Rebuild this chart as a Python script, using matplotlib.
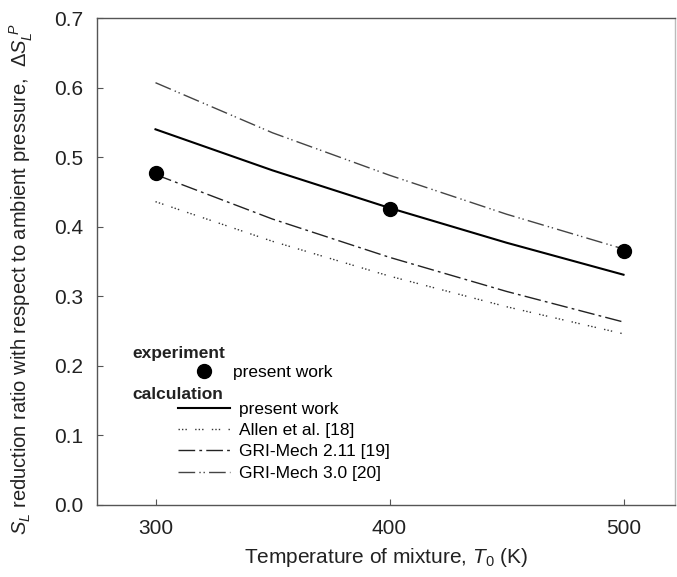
import matplotlib
matplotlib.use("Agg")
import matplotlib.pyplot as plt
from matplotlib.lines import Line2D

plt.rcParams['font.family'] = ['Liberation Sans', 'DejaVu Sans']
plt.rcParams['mathtext.fontset'] = 'custom'
plt.rcParams['mathtext.rm'] = 'Liberation Sans'
plt.rcParams['mathtext.it'] = 'Liberation Sans:italic'

# data
exp_T = [300, 400, 500]
exp_dS = [0.477, 0.425, 0.365]

calc_T = [300, 350, 400, 450, 500]
present_work = [0.540, 0.481, 0.427, 0.377, 0.331]
allen = [0.436, 0.379, 0.329, 0.285, 0.246]
gri211 = [0.475, 0.411, 0.356, 0.307, 0.263]
gri30 = [0.607, 0.535, 0.474, 0.418, 0.368]

fig = plt.figure(figsize=(6.77, 5.77), dpi=100)
ax = fig.add_axes([97/677, 72/577, 578/677, 487/577])

ls_allen = (0, (1, 1.5, 1, 1.5, 1, 6))
ls_211 = (0, (12, 3, 2, 3))
ls_30 = (0, (12, 3, 1, 2, 1, 3))

ax.plot(calc_T, present_work, color='black', lw=1.5)
ax.plot(calc_T, allen, color='#333333', lw=1.0, linestyle=ls_allen)
ax.plot(calc_T, gri211, color='#222222', lw=1.0, linestyle=ls_211)
ax.plot(calc_T, gri30, color='#444444', lw=1.0, linestyle=ls_30)
ax.plot(exp_T, exp_dS, 'o', color='black', markersize=10, zorder=5)

ax.set_xlim(275, 522)
ax.set_ylim(0, 0.7)
ax.set_xticks([300, 400, 500])
ax.set_yticks([0.0, 0.1, 0.2, 0.3, 0.4, 0.5, 0.6, 0.7])
ax.yaxis.set_major_formatter(plt.FuncFormatter(lambda v, p: f'{v:.1f}'))
ax.tick_params(axis='both', which='major', direction='in', length=4,
               labelsize=15, colors='#555555', labelcolor='#222222')
ax.tick_params(axis='x', which='major', pad=10)
ax.tick_params(axis='y', which='major', pad=10)
for sp in ax.spines.values():
    sp.set_color('#555555')
    sp.set_linewidth(1.0)
ax.spines['right'].set_color('#bbbbbb')

ax.set_xlabel('Temperature of mixture, $T_0$ (K)', fontsize=15, color='#222222', labelpad=6)
ax.set_ylabel(r'$S_L$ reduction ratio with respect to ambient pressure,  $\Delta S_L^{\ P}$',
              fontsize=14.5, color='#222222')
ax.yaxis.set_label_coords(-0.108, 0.464)

# legend
ax.text(0.061, 0.312, 'experiment', transform=ax.transAxes, fontsize=12.5,
        fontweight='bold', va='center', color='#222222')
ax.text(0.061, 0.226, 'calculation', transform=ax.transAxes, fontsize=12.5,
        fontweight='bold', va='center', color='#222222')

h_exp = [Line2D([], [], marker='o', color='black', linestyle='none', markersize=10)]
leg1 = ax.legend(h_exp, ['present work'], loc='center left',
                 bbox_to_anchor=(0.14, 0.272), frameon=False, fontsize=12.5,
                 handlelength=3.0, handletextpad=0.2, borderpad=0, borderaxespad=0)
ax.add_artist(leg1)

h_calc = [Line2D([], [], color='black', lw=1.5),
          Line2D([], [], color='#333333', lw=1.0, linestyle=ls_allen),
          Line2D([], [], color='#222222', lw=1.0, linestyle=ls_211),
          Line2D([], [], color='#444444', lw=1.0, linestyle=ls_30)]
labels_calc = ['present work', 'Allen et al. [18]', 'GRI-Mech 2.11 [19]', 'GRI-Mech 3.0 [20]']
ax.legend(h_calc, labels_calc, loc='upper left', bbox_to_anchor=(0.14, 0.212),
          frameon=False, fontsize=12.5, handlelength=3.0, handletextpad=0.5,
          labelspacing=0.35, borderpad=0, borderaxespad=0)

fig.savefig('out.png', dpi=100)
